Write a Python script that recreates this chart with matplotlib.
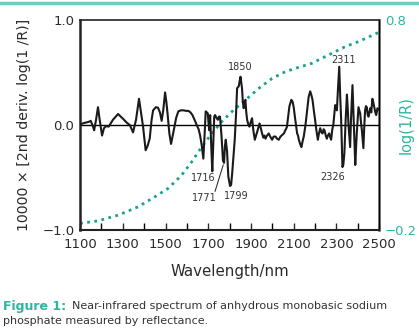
import numpy as np
import matplotlib
matplotlib.use("Agg")
import matplotlib.pyplot as plt

# 2nd derivative spectrum (x10000)
wl = [1105, 1120, 1140, 1150, 1160, 1166, 1175, 1184, 1192, 1203, 1212, 1222, 1234, 1254, 1278,
      1301, 1320, 1333, 1348, 1362, 1376, 1388, 1395, 1407, 1416, 1426, 1435, 1442, 1455, 1465,
      1474, 1482, 1490, 1498, 1504, 1510, 1518, 1526, 1534, 1542, 1550, 1560, 1572, 1584, 1596,
      1607, 1617, 1626, 1636, 1646, 1655, 1662, 1670, 1677, 1684, 1688, 1694, 1698, 1702, 1705,
      1709, 1714, 1719, 1724, 1728, 1732, 1738, 1745, 1750, 1755, 1762, 1769, 1774, 1778, 1782,
      1788, 1794, 1802, 1807, 1812, 1818, 1824, 1830, 1835, 1843, 1847, 1851, 1855, 1858, 1862,
      1866, 1870, 1874, 1878, 1882, 1888, 1893, 1899, 1905, 1911, 1918, 1924, 1929, 1935, 1940,
      1946, 1952, 1958, 1963, 1968, 1975, 1983, 1990, 1999, 2006, 2015, 2022, 2030, 2038, 2046,
      2054, 2061, 2068, 2074, 2080, 2089, 2095, 2100, 2106, 2112, 2116, 2120, 2124, 2130, 2136,
      2142, 2147, 2155, 2163, 2170, 2177, 2182, 2188, 2194, 2200, 2206, 2213, 2218, 2224, 2230,
      2235, 2240, 2244, 2250, 2255, 2260, 2266, 2270, 2275, 2280, 2286, 2290, 2294, 2298, 2302,
      2306, 2313, 2318, 2322, 2328, 2332, 2337, 2343, 2349, 2353, 2356, 2364, 2368, 2375, 2380,
      2384, 2388, 2392, 2395, 2403, 2407, 2411, 2415, 2419, 2426, 2430, 2434, 2438, 2442, 2446,
      2450, 2454, 2458, 2463, 2468, 2472, 2478, 2482, 2486, 2490, 2492, 2496]
deriv = [0.01, 0.02, 0.03, 0.04, -0.01, -0.05, 0.05, 0.17, 0.05, -0.10, -0.03, -0.01, -0.015, 0.05, 0.105,
         0.06, 0.02, 0.0, -0.07, 0.05, 0.25, 0.08, -0.015, -0.24, -0.20, -0.13, 0.05, 0.14, 0.17, 0.165,
         0.12, 0.04, 0.15, 0.31, 0.22, 0.10, -0.08, -0.18, -0.10, -0.015, 0.07, 0.13, 0.14, 0.14, 0.135,
         0.135, 0.12, 0.095, 0.05, 0.0, -0.04, -0.10, -0.20, -0.32, -0.05, 0.13, 0.12, 0.11, 0.0, -0.05,
         0.095, -0.20, -0.44, -0.15, 0.08, 0.095, 0.07, 0.05, 0.08, 0.08, -0.10, -0.34, -0.36, -0.20, -0.14,
         -0.25, -0.49, -0.58, -0.57, -0.46, -0.30, -0.14, 0.10, 0.35, 0.37, 0.42, 0.46, 0.40, 0.35, 0.22,
         0.16, 0.22, 0.24, 0.12, 0.05, 0.0, -0.015, 0.03, 0.065, -0.05, -0.14, -0.10, -0.065, -0.02, 0.015,
         -0.03, -0.08, -0.12, -0.10, -0.13, -0.10, -0.08, -0.11, -0.14, -0.11, -0.11, -0.13, -0.14, -0.11, -0.095,
         -0.08, -0.05, -0.02, 0.08, 0.18, 0.24, 0.22, 0.17, 0.07, -0.02, -0.08, -0.10, -0.14, -0.18, -0.21,
         -0.15, -0.11, 0.0, 0.14, 0.27, 0.32, 0.29, 0.24, 0.14, 0.05, -0.05, -0.14, -0.08, -0.03, -0.07,
         -0.08, -0.04, -0.05, -0.10, -0.13, -0.10, -0.08, -0.11, -0.14, -0.05, 0.015, 0.10, 0.19, 0.17, 0.14,
         0.30, 0.555, 0.25, 0.05, -0.40, -0.38, -0.27, 0.05, 0.29, 0.15, 0.015, -0.21, 0.05, 0.38, 0.10,
         -0.15, -0.38, -0.20, -0.08, 0.17, 0.14, 0.11, 0.02, -0.05, -0.22, -0.02, 0.14, 0.18, 0.17, 0.10,
         0.08, 0.12, 0.16, 0.12, 0.25, 0.22, 0.16, 0.12, 0.095, 0.14, 0.16, 0.15]

# log(1/R) curve, right axis
wl_abs = [1100, 1184, 1278, 1372, 1451, 1513, 1576, 1623, 1670, 1717, 1763, 1818, 1874, 1937,
          1999, 2061, 2124, 2186, 2216, 2278, 2341, 2403, 2489, 2496]
log_r = [-0.168, -0.156, -0.129, -0.089, -0.041, -0.001, 0.062, 0.125, 0.197, 0.26, 0.316, 0.371,
         0.419, 0.475, 0.522, 0.554, 0.575, 0.594, 0.61, 0.641, 0.673, 0.697, 0.737, 0.74]

# peak labels: text, x, y
peak_txt = ["1850", "2311", "2326", "1799", "1716", "1771"]
peak_x = [1850, 2331, 2284, 1830, 1676, 1680]
peak_y = [0.55, 0.62, -0.49, -0.68, -0.505, -0.69]

teal = "#17a38e"
teal_lt = "#2db59f"
dark = "#2a2a2a"

fig = plt.figure(figsize=(4.19, 3.33), dpi=100)
ax = fig.add_axes([0.191, 0.309, 0.714, 0.631])

ax.axhline(0, color="black", lw=1.0, zorder=2)
ax.plot(wl, deriv, color="#1a1a1a", lw=1.5, zorder=3)
ax.set_xlim(1100, 2500)
ax.set_ylim(-1, 1)
ax.set_yticks([-1, 0, 1])
ax.set_yticklabels(["\u22121.0", "0.0", "1.0"])
ax.set_xticks(range(1100, 2501, 200))
ax.set_xticks(range(1200, 2500, 200), minor=True)
ax.tick_params(axis="x", direction="in", length=5, width=1, labelsize=9.5, colors=dark, pad=6)
ax.tick_params(axis="x", which="minor", direction="in", length=5, width=1)
ax.tick_params(axis="y", length=0, labelsize=9.5, colors=dark, pad=4)
ax.set_xlabel("Wavelength/nm", fontsize=10.8, color=dark, labelpad=9)
ax.set_ylabel("10000 \u00d7 [2nd deriv. log(1 /R)]", fontsize=10.2, color=dark)
ax.yaxis.set_label_coords(-0.165, 0.5)
for s in ["left", "bottom", "top"]:
    ax.spines[s].set_color("#222222")
ax.spines["left"].set_linewidth(1.8)
ax.spines["bottom"].set_linewidth(1.5)
ax.spines["top"].set_linewidth(1.2)

for t, x, y in zip(peak_txt, peak_x, peak_y):
    ax.text(x, y, t, fontsize=7, color="#333333", ha="center", va="center")
# leader line for 1771
ax.plot([1732, 1770], [-0.63, -0.38], color="#333333", lw=0.8)

ax2 = ax.twinx()
ax2.plot(wl_abs, log_r, color=teal, lw=2, linestyle=(0, (1, 1.6)), zorder=1)
ax2.set_ylim(-0.2, 0.8)
ax2.set_yticks([-0.2, 0.8])
ax2.set_yticklabels(["\u22120.2", "0.8"])
ax2.tick_params(axis="y", length=0, labelsize=9.5, colors=teal_lt, pad=4)
ax2.set_ylabel("log(1/R)", fontsize=10.5, color=teal_lt)
ax2.yaxis.set_label_coords(1.065, 0.5)
ax2.spines["right"].set_color("#555555")
ax2.spines["right"].set_linewidth(1.8)
ax2.spines["left"].set_visible(False)
ax2.spines["top"].set_visible(False)
ax2.spines["bottom"].set_visible(False)
ax.set_zorder(ax2.get_zorder() + 1)
ax.patch.set_visible(False)

# top decorative bar
fig.add_artist(plt.Line2D([0, 1], [0.991, 0.991], transform=fig.transFigure, color="#72cbbb", lw=2.5))

fig.text(0.008, 0.081, "Figure 1:", fontsize=9, color=teal_lt, fontweight="bold", va="center")
fig.text(0.172, 0.081, "Near-infrared spectrum of anhydrous monobasic sodium", fontsize=8,
         color="#333333", va="center")
fig.text(0.008, 0.037, "phosphate measured by reflectance.", fontsize=8, color="#333333", va="center")

fig.savefig("out.png", dpi=100)
